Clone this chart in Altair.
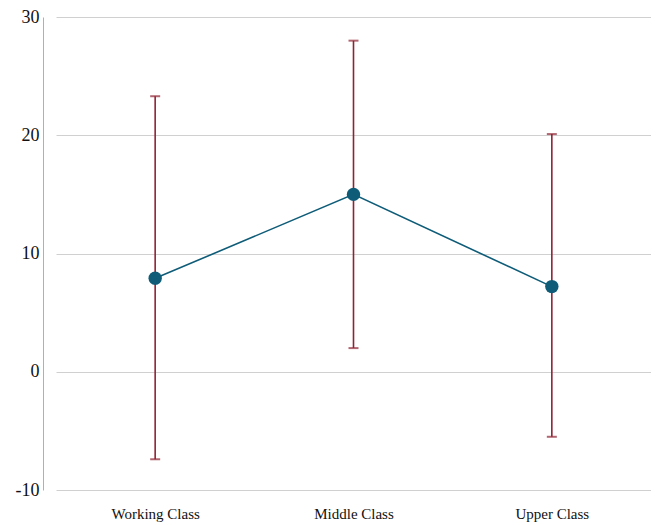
import altair as alt
import pandas as pd

categories = ["Working Class", "Middle Class", "Upper Class"]
means = [7.9, 15.0, 7.2]
lowers = [-7.4, 2.0, -5.5]
uppers = [23.3, 28.0, 20.1]

df = pd.DataFrame({"cls": categories, "mean": means, "lo": lowers, "hi": uppers})

FONT = "Liberation Serif, Times New Roman, serif"

x = alt.X("cls:N", sort=categories, title=None,
          scale=alt.Scale(type="point", padding=0.5),
          axis=alt.Axis(labelAngle=0, domain=False, ticks=False, grid=False,
                        labelFont=FONT, labelFontSize=15,
                        labelColor="#111", labelPadding=16))
yscale = alt.Scale(domain=[-10, 30], nice=False, zero=False)
yaxis = alt.Axis(values=[-10, 0, 10, 20, 30], grid=True, gridColor="#d0d0d0",
                 domain=True, domainColor="#b0b0b0", ticks=False, offset=13,
                 labelFont=FONT, labelFontSize=18, labelColor="#111",
                 labelExpr="'' + datum.value",
                 labelPadding=4, title=None)

base = alt.Chart(df)
rules = base.mark_rule(color="#8E2433", strokeWidth=1.6).encode(
    x=x, y=alt.Y("lo:Q", scale=yscale, axis=yaxis), y2="hi:Q")
cap_lo = base.mark_tick(color="#8E2433", thickness=2, size=10, orient="horizontal").encode(
    x=x, y=alt.Y("lo:Q", scale=yscale))
cap_hi = base.mark_tick(color="#8E2433", thickness=2, size=10, orient="horizontal").encode(
    x=x, y=alt.Y("hi:Q", scale=yscale))
line = base.mark_line(color="#0E5C78", strokeWidth=1.6).encode(
    x=x, y=alt.Y("mean:Q", scale=yscale))
pts = base.mark_point(filled=True, color="#0E5C78", opacity=1, size=180).encode(
    x=x, y=alt.Y("mean:Q", scale=yscale))

chart = alt.layer(rules, cap_lo, cap_hi, line, pts).properties(
    width=595, height=473,
    autosize=alt.AutoSizeParams(type="none"),
    padding={"left": 48, "top": 9, "right": 0, "bottom": 32},
).configure_view(stroke=None)

chart.save("out.html", embed_options={"renderer": "svg", "actions": False})
